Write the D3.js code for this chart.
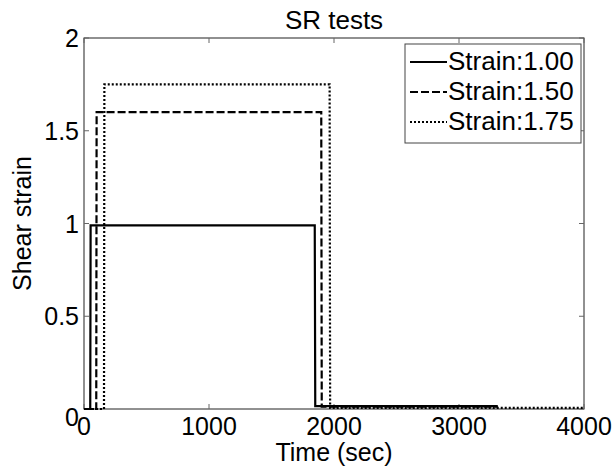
<!DOCTYPE html>
<html>
<head>
<meta charset="utf-8">
<script src="https://cdn.jsdelivr.net/npm/d3@7"></script>
<style>
  html, body { margin: 0; padding: 0; background: #fff; }
  svg { display: block; font-family: "Liberation Sans", Arial, sans-serif; }
</style>
</head>
<body>
<svg id="chart" width="615" height="470"></svg>
<script>
// Step shear-strain histories for the stress-relaxation tests
const seriesNames = ["Strain:1.00", "Strain:1.50", "Strain:1.75"];
const strain100 = [[0, 0], [50, 0], [53, 0.99], [1846, 0.99], [1850, 0.015], [3310, 0.015]];
const strain150 = [[0, 0], [98, 0], [101, 1.60], [1898, 1.60], [1902, 0.012], [3310, 0.012]];
const strain175 = [[0, 0], [160, 0], [163, 1.75], [1965, 1.75], [1969, 0.006], [4000, 0.006]];
const xTicks = [0, 1000, 2000, 3000, 4000];
const yTicks = [0, 0.5, 1, 1.5, 2];
const yTickLabels = ["0", "0.5", "1", "1.5", "2"];

const svg = d3.select("#chart");
const m = { left: 84, right: 31, top: 38, bottom: 61 };
const W = 615, H = 470;
const x = d3.scaleLinear().domain([0, 4000]).range([m.left, W - m.right]);
const y = d3.scaleLinear().domain([0, 2]).range([H - m.bottom, m.top]);

const axisColor = "#222";
const tickColor = "#666";
const tickLen = 5;
const fontSize = 25;

// plot frame
svg.append("rect")
  .attr("x", x(0)).attr("y", y(2))
  .attr("width", x(4000) - x(0)).attr("height", y(0) - y(2))
  .attr("fill", "#fff").attr("stroke", axisColor).attr("stroke-width", 1);

// inward ticks on all four sides
const g = svg.append("g");
xTicks.forEach(t => {
  g.append("line").attr("x1", x(t)).attr("x2", x(t)).attr("y1", y(0)).attr("y2", y(0) - tickLen)
    .attr("stroke", tickColor);
  g.append("line").attr("x1", x(t)).attr("x2", x(t)).attr("y1", y(2)).attr("y2", y(2) + tickLen)
    .attr("stroke", tickColor);
  g.append("text").attr("x", x(t)).attr("y", y(0) + 26).attr("text-anchor", "middle")
    .attr("font-size", fontSize).attr("fill", "#000").text(t);
});
yTicks.forEach((t, i) => {
  g.append("line").attr("x1", x(0)).attr("x2", x(0) + tickLen).attr("y1", y(t)).attr("y2", y(t))
    .attr("stroke", tickColor);
  g.append("line").attr("x1", x(4000)).attr("x2", x(4000) - tickLen).attr("y1", y(t)).attr("y2", y(t))
    .attr("stroke", tickColor);
  // the zero label sits just below the corner so it clears the x-axis zero
  const dy = t === 0 ? 17 : 9;
  g.append("text").attr("x", x(0) - 5).attr("y", y(t) + dy).attr("text-anchor", "end")
    .attr("font-size", fontSize).attr("fill", "#000").text(yTickLabels[i]);
});

// data lines
const line = d3.line().x(d => x(d[0])).y(d => y(d[1]));
const styles = [
  { data: strain100, dash: null },
  { data: strain150, dash: "8,3" },
  { data: strain175, dash: "2,2" }
];
styles.forEach(s => {
  svg.append("path").datum(s.data).attr("d", line)
    .attr("fill", "none").attr("stroke", "#000").attr("stroke-width", 2.2)
    .attr("stroke-dasharray", s.dash);
});

// titles
svg.append("text").attr("x", (x(0) + x(4000)) / 2).attr("y", 29).attr("text-anchor", "middle")
  .attr("font-size", 26).text("SR tests");
svg.append("text").attr("x", (x(0) + x(4000)) / 2).attr("y", 461).attr("text-anchor", "middle")
  .attr("font-size", fontSize).text("Time (sec)");
svg.append("text").attr("transform", `translate(31,${(y(0) + y(2)) / 2}) rotate(-90)`)
  .attr("text-anchor", "middle").attr("font-size", fontSize).text("Shear strain");

// legend
const lg = svg.append("g");
lg.append("rect").attr("x", 405).attr("y", 44).attr("width", 176).attr("height", 99)
  .attr("fill", "#fff").attr("stroke", "#444").attr("stroke-width", 1);
styles.forEach((s, i) => {
  const cy = 62 + i * 30;
  lg.append("line").attr("x1", 410).attr("x2", 447).attr("y1", cy).attr("y2", cy)
    .attr("stroke", "#000").attr("stroke-width", 2).attr("stroke-dasharray", s.dash);
  lg.append("text").attr("x", 448).attr("y", cy + 8).attr("font-size", 26).text(seriesNames[i]);
});
</script>
</body>
</html>
